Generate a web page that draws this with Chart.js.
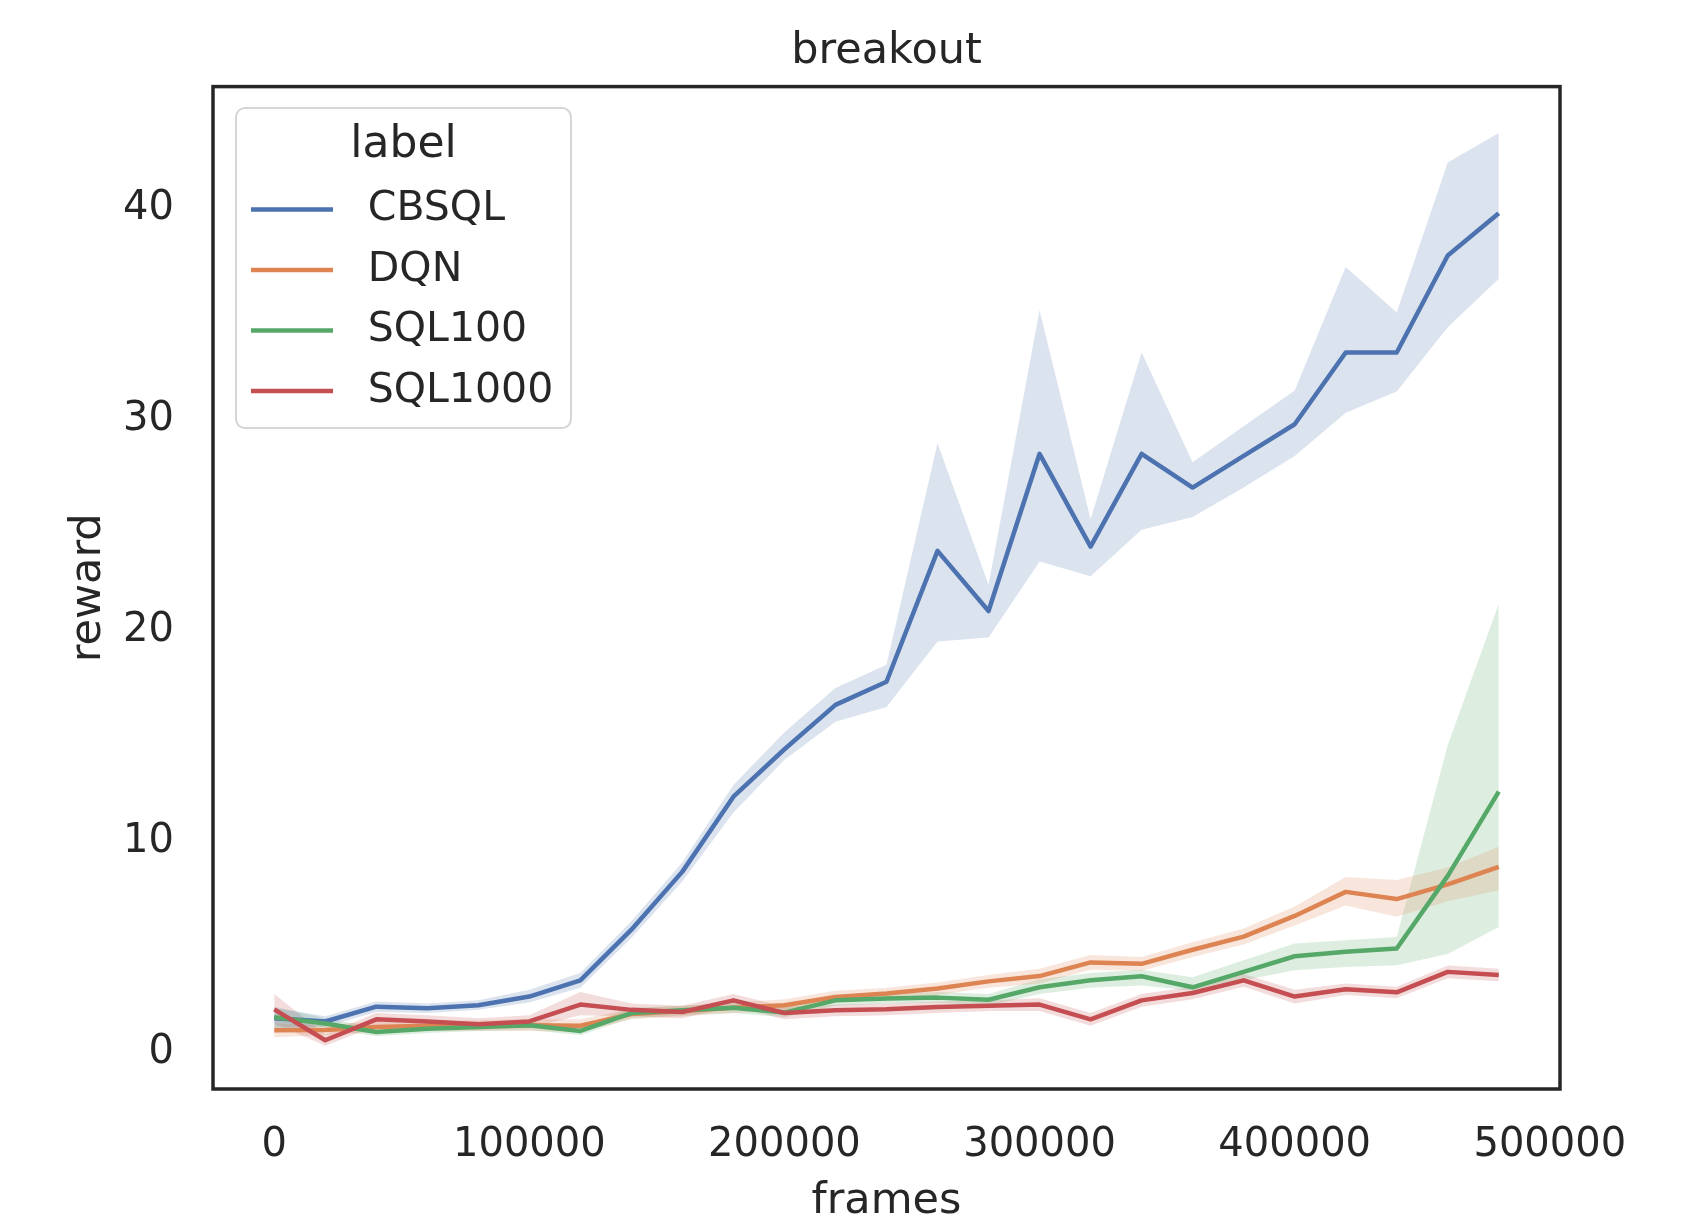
<!DOCTYPE html>
<html>
<head>
<meta charset="utf-8">
<title>breakout</title>
<script src="https://cdn.jsdelivr.net/npm/chart.js@4.4.1/dist/chart.umd.min.js"></script>
<style>
    html, body { margin: 0; padding: 0; background: #fff; }
    #wrap { width: 1695px; height: 1219px; position: relative; }
</style>
</head>
<body>
<div id="wrap"><canvas id="chart"></canvas></div>
<script>
// x positions (frames) and tick values
var frames = [0, 20000, 40000, 60000, 80000, 100000, 120000, 140000, 160000, 180000,
    200000, 220000, 240000, 260000, 280000, 300000, 320000, 340000, 360000, 380000,
    400000, 420000, 440000, 460000, 480000];
var xTicks = [0, 100000, 200000, 300000, 400000, 500000];
var yTicks = [0, 10, 20, 30, 40];
var seriesNames = ['CBSQL', 'DQN', 'SQL100', 'SQL1000'];

// mean reward + confidence band for each run
var cbsqlMean = [1.45, 1.3, 2.0, 1.93, 2.07, 2.48, 3.25, 5.65, 8.4, 11.95, 14.2, 16.3, 17.4,
    23.6, 20.75, 28.2, 23.8, 28.2, 26.6, 28.1, 29.6, 33.0, 33.0, 37.6, 39.6];
var cbsqlHigh = [1.95, 1.55, 2.25, 2.15, 2.3, 2.8, 3.6, 6.05, 8.85, 12.5, 15.0, 17.1, 18.2,
    28.7, 22.0, 35.0, 25.1, 33.0, 27.8, 29.5, 31.2, 37.05, 34.9, 42.0, 43.4];
var cbsqlLow = [1.0, 1.05, 1.75, 1.7, 1.85, 2.2, 2.9, 5.25, 7.95, 11.2, 13.7, 15.5, 16.2,
    19.3, 19.5, 23.1, 22.4, 24.6, 25.2, 26.6, 28.1, 30.15, 31.15, 34.2, 36.5];

var dqnMean = [0.88, 0.9, 1.04, 1.1, 1.1, 1.12, 1.1, 1.65, 1.8, 1.95, 2.07, 2.46, 2.62,
    2.86, 3.2, 3.45, 4.1, 4.03, 4.7, 5.32, 6.3, 7.44, 7.1, 7.8, 8.63];
var dqnHigh = [1.2, 1.15, 1.3, 1.35, 1.35, 1.4, 1.4, 1.9, 2.05, 2.2, 2.35, 2.75, 2.9,
    3.15, 3.5, 3.8, 4.45, 4.35, 5.05, 5.7, 6.75, 8.15, 8.0, 8.6, 9.58];
var dqnLow = [0.55, 0.65, 0.8, 0.85, 0.85, 0.85, 0.8, 1.4, 1.55, 1.7, 1.8, 2.2, 2.35,
    2.55, 2.9, 3.1, 3.75, 3.7, 4.35, 4.95, 5.85, 6.8, 6.26, 7.0, 7.52];

var sql100Mean = [1.5, 1.2, 0.8, 0.96, 1.04, 1.12, 0.85, 1.7, 1.83, 1.95, 1.72, 2.3, 2.39,
    2.43, 2.33, 2.92, 3.25, 3.44, 2.92, 3.65, 4.39, 4.6, 4.76, 8.2, 12.19];
var sql100High = [2.0, 1.45, 1.0, 1.15, 1.25, 1.3, 1.05, 1.95, 2.05, 2.2, 1.95, 2.55, 2.6,
    2.7, 2.6, 3.3, 3.6, 3.75, 3.4, 4.2, 5.0, 5.15, 5.3, 14.4, 21.1];
var sql100Low = [1.0, 0.95, 0.6, 0.75, 0.85, 0.9, 0.65, 1.45, 1.6, 1.7, 1.5, 2.05, 2.15,
    2.2, 2.05, 2.6, 2.9, 3.0, 2.75, 3.25, 3.73, 3.88, 3.96, 4.5, 5.78];

var sql1000Mean = [1.87, 0.41, 1.4, 1.3, 1.17, 1.3, 2.1, 1.85, 1.75, 2.3, 1.7, 1.83, 1.88,
    1.99, 2.05, 2.1, 1.4, 2.3, 2.65, 3.25, 2.48, 2.83, 2.68, 3.65, 3.5];
var sql1000High = [2.6, 0.7, 1.7, 1.6, 1.45, 1.6, 2.7, 2.15, 2.05, 2.6, 2.0, 2.1, 2.15,
    2.25, 2.3, 2.4, 1.7, 2.6, 2.95, 3.55, 2.8, 3.1, 2.95, 3.95, 3.8];
var sql1000Low = [1.2, 0.15, 1.1, 1.0, 0.9, 1.0, 1.6, 1.55, 1.45, 2.0, 1.4, 1.55, 1.6,
    1.7, 1.8, 1.8, 1.1, 2.0, 2.35, 2.95, 2.15, 2.55, 2.4, 3.35, 3.2];

// seaborn "deep" palette
var colors = ['#4c72b0', '#dd8452', '#55a868', '#c44e52'];
var bandColors = ['rgba(76,114,176,0.2)', 'rgba(221,132,82,0.2)', 'rgba(85,168,104,0.2)', 'rgba(196,78,82,0.2)'];

var means = [cbsqlMean, dqnMean, sql100Mean, sql1000Mean];
var highs = [cbsqlHigh, dqnHigh, sql100High, sql1000High];
var lows = [cbsqlLow, dqnLow, sql100Low, sql1000Low];

var FONT = '"DejaVu Sans", "Liberation Sans", sans-serif';
var TEXT = '#262626';

function pts(ys) {
    return frames.map(function (x, i) { return {x: x, y: ys[i]}; });
}

var datasets = [];
seriesNames.forEach(function (name, k) {
    // band: lower edge, then upper edge filled down to it
    datasets.push({
        label: name + ' low', isBand: true, data: pts(lows[k]),
        borderWidth: 0, borderColor: 'rgba(0,0,0,0)', pointRadius: 0, fill: false, order: 20
    });
    datasets.push({
        label: name + ' high', isBand: true, data: pts(highs[k]),
        borderWidth: 0, borderColor: 'rgba(0,0,0,0)', pointRadius: 0,
        fill: '-1', backgroundColor: bandColors[k], order: 20
    });
});
seriesNames.forEach(function (name, k) {
    datasets.push({
        label: name, data: pts(means[k]),
        borderColor: colors[k], borderWidth: 4.5, pointRadius: 0,
        borderJoinStyle: 'round', fill: false, order: 3 - k
    });
});

// black box around the axes like matplotlib spines
var framePlugin = {
    id: 'frame',
    afterDatasetsDraw: function (chart) {
        var a = chart.chartArea, ctx = chart.ctx;
        ctx.save();
        ctx.strokeStyle = TEXT;
        ctx.lineWidth = 3.5;
        ctx.strokeRect(a.left, a.top, a.right - a.left, a.bottom - a.top);
        ctx.restore();
    }
};

// legend inside the plot, upper left, with a "label" title
var legendPlugin = {
    id: 'innerLegend',
    afterDraw: function (chart) {
        var a = chart.chartArea, ctx = chart.ctx;
        var x0 = a.left + 23, y0 = a.top + 21.5, w = 335, h = 320, r = 9;
        ctx.save();
        ctx.beginPath();
        ctx.roundRect(x0, y0, w, h, r);
        ctx.fillStyle = 'rgba(255,255,255,0.8)';
        ctx.fill();
        ctx.lineWidth = 2;
        ctx.strokeStyle = 'rgba(204,204,204,0.8)';
        ctx.stroke();

        ctx.fillStyle = TEXT;
        ctx.textBaseline = 'middle';
        ctx.textAlign = 'center';
        ctx.font = '44px ' + FONT;
        ctx.fillText('label', x0 + w / 2, y0 + 37);

        var lines = chart.data.datasets.filter(function (d) { return !d.isBand; });
        ctx.textAlign = 'left';
        ctx.font = '41px ' + FONT;
        lines.forEach(function (d, k) {
            var y = y0 + 101.5 + 60.5 * k;
            ctx.beginPath();
            ctx.moveTo(x0 + 15, y);
            ctx.lineTo(x0 + 97, y);
            ctx.strokeStyle = d.borderColor;
            ctx.lineWidth = 4.5;
            ctx.stroke();
            ctx.fillStyle = TEXT;
            ctx.fillText(d.label, x0 + 131.8, y);
        });
        ctx.restore();
    }
};

var ctx = document.getElementById('chart').getContext('2d');
var chart = new Chart(ctx, {
    type: 'line',
    data: {datasets: datasets},
    plugins: [framePlugin, legendPlugin],
    options: {
        responsive: true,
        maintainAspectRatio: false,
        animation: false,
        devicePixelRatio: 1,
        layout: {padding: {left: 0, right: 135, top: 0, bottom: 0}},
        plugins: {
            legend: {display: false},
            tooltip: {enabled: false},
            filler: {drawTime: 'beforeDatasetsDraw'},
            title: {
                display: true,
                fullSize: false,
                text: 'breakout',
                color: TEXT,
                font: {family: FONT, size: 43, weight: 'normal', lineHeight: 1.2},
                padding: {top: 26, bottom: 9}
            }
        },
        scales: {
            x: {
                type: 'linear',
                min: -24000,
                max: 504000,
                grid: {display: false},
                border: {display: false},
                afterBuildTicks: function (s) {
                    s.ticks = xTicks.map(function (v) { return {value: v}; });
                },
                afterFit: function (s) {
                    s.height = 130;
                    s.paddingLeft = 0;
                    s.paddingRight = 0;
                },
                ticks: {
                    color: TEXT,
                    font: {family: FONT, size: 40},
                    padding: 24.5,
                    maxRotation: 0,
                    autoSkip: false,
                    callback: function (v) { return String(v); }
                },
                title: {
                    display: true,
                    text: 'frames',
                    color: TEXT,
                    font: {family: FONT, size: 43, lineHeight: 1},
                    padding: {top: 0, bottom: -4}
                }
            },
            y: {
                min: -1.9,
                max: 45.6,
                grid: {display: false},
                border: {display: false},
                afterBuildTicks: function (s) {
                    s.ticks = yTicks.map(function (v) { return {value: v}; });
                },
                afterFit: function (s) {
                    s.width = 213;
                    s.paddingTop = 0;
                    s.paddingBottom = 0;
                },
                ticks: {
                    color: TEXT,
                    font: {family: FONT, size: 40},
                    padding: 31,
                    labelOffset: 4,
                    callback: function (v) { return String(v); }
                },
                title: {
                    display: true,
                    text: 'reward',
                    color: TEXT,
                    font: {family: FONT, size: 43, lineHeight: 1},
                    padding: {top: 67.5, bottom: 0}
                }
            }
        }
    }
});
</script>
</body>
</html>
